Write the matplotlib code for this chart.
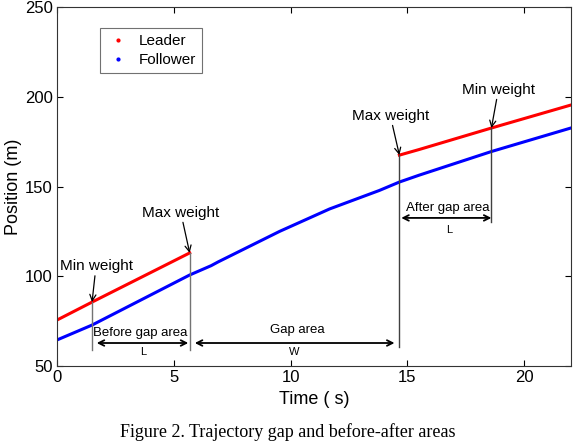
import matplotlib.pyplot as plt
from matplotlib.lines import Line2D

plt.rcParams['font.family'] = ['Liberation Sans', 'DejaVu Sans']

# positions (time in s, position in m)
leader_t1 = [0.0, 1.5, 5.68]
leader_p1 = [75.6, 85.6, 113.0]
leader_t2 = [14.66, 15.5, 18.6, 22.0]
leader_p2 = [167.5, 170.6, 182.6, 195.4]

follower_t = [0.0, 1.5, 5.26, 5.68, 6.6, 6.9, 9.53, 11.67, 13.8, 14.66, 15.5, 18.6, 22.0]
follower_p = [64.5, 72.8, 97.9, 100.7, 105.9, 108.0, 125.0, 137.5, 147.8, 152.5, 156.3, 169.5, 182.6]

# times of the weight points
min_w1, max_w1 = 1.5, 5.68
max_w2, min_w2 = 14.66, 18.6

fig = plt.figure(figsize=(5.76, 4.42), dpi=100)
ax = fig.add_axes([0.099, 0.172, 0.892, 0.812])

ax.plot(leader_t1, leader_p1, '-', color='red', lw=2.2)
ax.plot(leader_t2, leader_p2, '-', color='red', lw=2.2)
ax.plot(follower_t, follower_p, '-', color='blue', lw=2.2)

# vertical separators
ax.plot([min_w1, min_w1], [58.9, 85.6], color='0.45', lw=1)
ax.plot([max_w1, max_w1], [58.9, 113.0], color='0.45', lw=1)
ax.plot([max_w2, max_w2], [60.6, 167.5], color='0.25', lw=1)
ax.plot([min_w2, min_w2], [130.2, 182.6], color='0.25', lw=1)

arr = dict(arrowstyle='->', color='black', lw=0.9, shrinkA=0, shrinkB=0)
ax.annotate('Min weight', xy=(min_w1, 85.6), xytext=(1.67, 105.7), ha='center', va='center',
            fontsize=11, arrowprops=arr)
ax.annotate('Max weight', xy=(max_w1, 113.0), xytext=(5.3, 135.5), ha='center', va='center',
            fontsize=11, arrowprops=arr)
ax.annotate('Max weight', xy=(max_w2, 167.5), xytext=(14.27, 189.5), ha='center', va='center',
            fontsize=11, arrowprops=arr)
ax.annotate('Min weight', xy=(min_w2, 182.6), xytext=(18.9, 204.0), ha='center', va='center',
            fontsize=11, arrowprops=arr)

dbl = dict(arrowstyle='<->', color='black', lw=1.3, shrinkA=0, shrinkB=0)
ax.annotate('', xy=(1.7, 62.8), xytext=(5.62, 62.8), arrowprops=dbl)
ax.annotate('', xy=(5.9, 62.8), xytext=(14.45, 62.8), arrowprops=dbl)
ax.annotate('', xy=(14.74, 132.5), xytext=(18.6, 132.5), arrowprops=dbl)

ax.text(3.55, 68.4, 'Before gap area', ha='center', va='center', fontsize=9.5)
ax.text(3.68, 58.0, 'L', ha='center', va='center', fontsize=8)
ax.text(10.3, 69.8, 'Gap area', ha='center', va='center', fontsize=9.5)
ax.text(10.17, 58.0, 'W', ha='center', va='center', fontsize=8)
ax.text(16.75, 138.2, 'After gap area', ha='center', va='center', fontsize=9.5)
ax.text(16.8, 126.0, 'L', ha='center', va='center', fontsize=8)

ax.set_xlim(0, 22)
ax.set_ylim(50, 250)
ax.set_xticks([0, 5, 10, 15, 20])
ax.set_yticks([50, 100, 150, 200, 250])
ax.tick_params(direction='in', top=True, right=True, labelsize=12, length=4, pad=3)
for s in ax.spines.values():
    s.set_linewidth(0.8)
    s.set_color('0.2')
ax.set_xlabel('Time ( s)', fontsize=13, labelpad=4)
ax.set_ylabel('Position (m)', fontsize=13, labelpad=2)

handles = [Line2D([], [], ls='none', marker='.', markersize=4, color='red'),
           Line2D([], [], ls='none', marker='.', markersize=4, color='blue')]
leg = ax.legend(handles, ['Leader', 'Follower'], loc='upper left', bbox_to_anchor=(0.084, 0.942),
                borderaxespad=0, fontsize=11, fancybox=False, edgecolor='0.3',
                handlelength=1.5, handletextpad=0.6, borderpad=0.4, labelspacing=0.35)
leg.get_frame().set_linewidth(0.8)

fig.text(0.5, 1 - 423 / 442, 'Figure 2. Trajectory gap and before-after areas', ha='center', va='top',
         fontsize=13, family='Liberation Serif')

fig.savefig('out.png', dpi=100)
